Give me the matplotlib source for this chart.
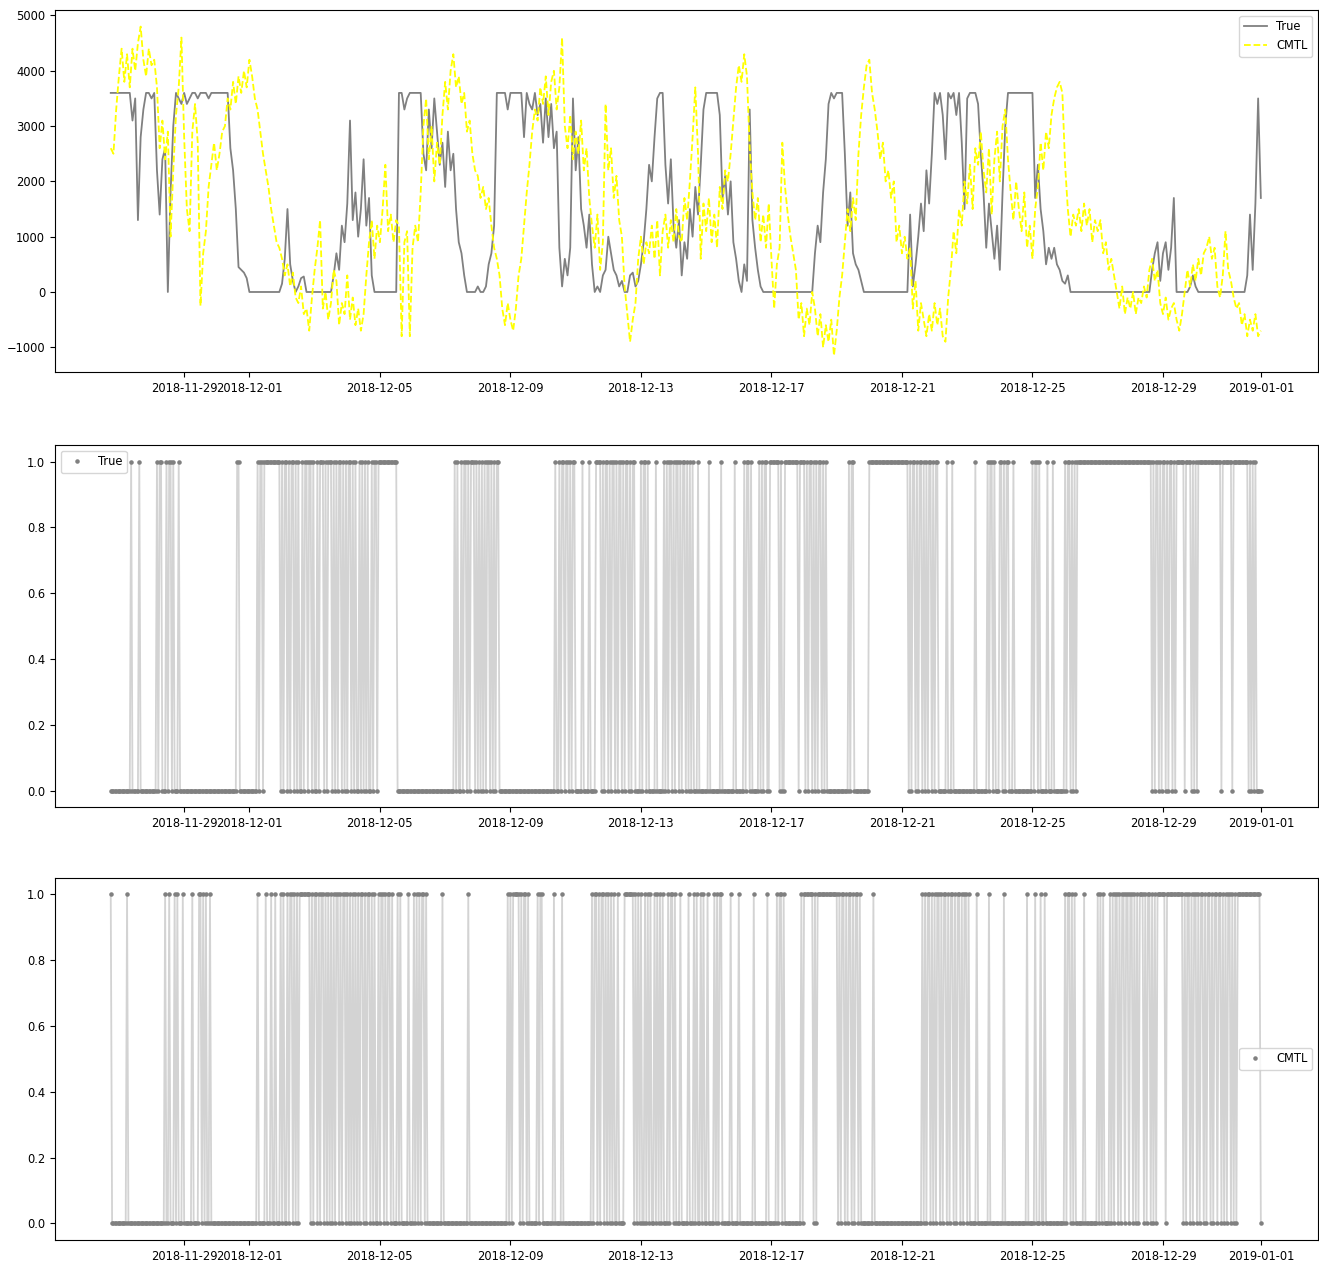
import numpy as np
import pandas as pd
import matplotlib
matplotlib.use("Agg")
import matplotlib.pyplot as plt

plt.rcParams['font.size'] = 8.3

# values every 2 hours, one row per day
# (first row starts 2018-11-26 18:00, last row is 2019-01-01 00:00)
true_rows = [
    [3600, 3600, 3600],
    [3600, 3600, 3600, 3600, 3600, 3100, 3500, 1300, 2800, 3300, 3600, 3600],
    [3500, 3600, 2200, 1400, 2400, 2600, 0, 1800, 3000, 3600, 3500, 3400],
    [3600, 3400, 3500, 3600, 3600, 3500, 3600, 3600, 3600, 3500, 3600, 3600],
    [3600, 3600, 3600, 3600, 3600, 2600, 2200, 1500, 450, 400, 350, 250],
    [0, 0, 0, 0, 0, 0, 0, 0, 0, 0, 0, 0],
    [150, 600, 1500, 500, 200, 0, 100, 250, 280, 0, 0, 0],
    [0, 0, 0, 0, 0, 0, 0, 300, 700, 400, 1200, 900],
    [1600, 3100, 1300, 1800, 1000, 1500, 2400, 1200, 1700, 300, 0, 0],
    [0, 0, 0, 0, 0, 0, 0, 3600, 3600, 3300, 3500, 3600],
    [3600, 3600, 3600, 3600, 2500, 2200, 3300, 2600, 3500, 2900, 2300, 2700],
    [1900, 2900, 2200, 2500, 1500, 900, 700, 300, 0, 0, 0, 0],
    [100, 0, 0, 100, 500, 700, 1200, 3600, 3600, 3600, 3600, 3300],
    [3600, 3600, 3600, 3600, 3600, 2800, 3600, 3400, 3300, 3600, 3200, 3400],
    [2700, 3500, 2800, 3400, 2600, 2900, 800, 100, 600, 300, 800, 3500],
    [2200, 2800, 1500, 1200, 800, 1400, 500, 0, 100, 0, 300, 400],
    [1000, 700, 400, 300, 100, 200, 0, 0, 300, 350, 100, 200],
    [500, 900, 1500, 2300, 2000, 2800, 3500, 3600, 3600, 2300, 1600, 2400],
    [1200, 800, 1300, 300, 900, 600, 1500, 1000, 1900, 1400, 2300, 3300],
    [3600, 3600, 3600, 3600, 3600, 3200, 1700, 2100, 1400, 2000, 900, 600],
    [200, 0, 500, 200, 3300, 1300, 800, 400, 100, 0, 0, 0],
    [0, 0, 0, 0, 0, 0, 0, 0, 0, 0, 0, 0],
    [0, 0, 0, 0, 700, 1200, 900, 1800, 2400, 3400, 3600, 3500],
    [3600, 3600, 3600, 2500, 1200, 1800, 700, 500, 400, 200, 0, 0],
    [0, 0, 0, 0, 0, 0, 0, 0, 0, 0, 0, 0],
    [0, 0, 0, 1400, 100, 500, 1000, 1600, 1100, 2200, 1600, 2500],
    [3600, 3400, 3600, 3200, 2400, 3600, 3500, 3600, 3200, 3600, 2700, 1500],
    [3500, 3600, 3600, 3600, 3400, 2500, 1800, 800, 1600, 1100, 600, 1200],
    [400, 1800, 3000, 3600, 3600, 3600, 3600, 3600, 3600, 3600, 3600, 3600],
    [3600, 1700, 2300, 1500, 1100, 500, 800, 600, 800, 500, 400, 200],
    [150, 300, 0, 0, 0, 0, 0, 0, 0, 0, 0, 0],
    [0, 0, 0, 0, 0, 0, 0, 0, 0, 0, 0, 0],
    [0, 0, 0, 0, 0, 0, 0, 0, 400, 700, 900, 200],
    [700, 900, 400, 800, 1700, 0, 0, 0, 0, 0, 100, 300],
    [100, 0, 0, 0, 0, 0, 0, 0, 0, 0, 0, 0],
    [0, 0, 0, 0, 0, 0, 0, 300, 1400, 400, 1600, 3500],
    [1700],
]

cmtl_rows = [
    [2600, 2500, 3300],
    [3900, 4400, 3800, 4300, 3700, 4400, 4000, 4500, 4800, 4200, 3900, 4400],
    [4100, 4200, 3700, 2600, 3100, 2400, 2900, 1000, 2200, 3200, 3700, 4600],
    [2800, 1500, 1100, 2900, 3400, 2700, -250, 700, 1100, 1900, 2300, 2700],
    [2200, 2500, 2900, 3000, 3500, 3300, 3800, 3400, 3900, 3600, 4000, 3700],
    [4200, 3900, 3500, 3300, 2900, 2500, 2200, 1900, 1500, 1200, 900, 800],
    [600, 300, 500, 100, 350, -100, -200, 100, -400, -300, -700, -100],
    [400, 800, 1300, -300, 0, -500, -200, 400, 200, -600, -200, -400],
    [300, -500, -100, -600, -300, -700, -400, 300, 900, 1300, 600, 1200],
    [900, 1500, 2300, 1100, 1400, 900, 1300, 1200, -800, 900, 1100, -800],
    [800, 1200, 900, 1800, 3000, 3500, 2400, 3000, 2000, 2700, 2300, 3200],
    [3800, 3300, 4000, 4300, 3700, 3900, 3400, 3600, 2900, 3100, 2500, 2200],
    [2100, 1700, 1900, 1500, 1700, 1200, 800, 600, 300, -300, -600, -200],
    [-500, -700, -300, 300, 600, 1200, 1800, 2300, 2900, 3300, 3100, 3700],
    [3400, 3900, 3200, 3800, 4000, 3300, 3700, 4600, 3000, 2600, 3200, 2400],
    [2900, 2500, 3100, 2200, 2600, 1700, 1200, 800, 1400, 400, 900, 3400],
    [2200, 2600, 1700, 2100, 1300, 1000, 100, -400, -900, -500, -200, 600],
    [1000, 500, 900, 700, 1200, 600, 1300, 300, 1100, 1400, 800, 1300],
    [900, 1500, 1000, 900, 1700, 1300, 2000, 2800, 3700, 2500, 600, 1600],
    [1100, 1700, 900, 1400, 800, 1900, 1500, 2200, 2000, 2500, 3100, 3700],
    [4100, 3800, 4300, 3900, 2600, 1800, 1300, 1700, 900, 1400, 800, 1600],
    [600, -300, 500, 800, 2700, 1900, 1400, 1000, 700, 400, -500, -200],
    [-800, -300, -600, 0, -300, -800, -400, -1000, -600, -900, -500, -1150],
    [-700, -100, 300, 900, 1500, 1100, 1700, 1300, 2500, 3200, 3700, 4100],
    [4200, 3600, 3300, 2900, 2400, 2700, 2000, 2200, 1700, 2000, 900, 1200],
    [700, 1000, 600, 800, -300, 200, -700, -200, -500, -800, -400, -700],
    [-200, -600, -300, -800, -900, -100, 400, 1100, 700, 1500, 1200, 2000],
    [1600, 2300, 1500, 2600, 2300, 2900, 2200, 1800, 2600, 1400, 2400, 2900],
    [2000, 3000, 3300, 2400, 1800, 1300, 2000, 1500, 1100, 1800, 800, 1200],
    [600, 1500, 1900, 2700, 2200, 2900, 2600, 3200, 3500, 3700, 3800, 3600],
    [2300, 1500, 1000, 1400, 1200, 1500, 1100, 1600, 1200, 1500, 900, 1300],
    [1100, 1300, 700, 900, 400, 600, 300, 0, -300, 100, -400, -100],
    [-300, 0, -400, -100, -200, 100, -100, 400, 600, 200, 400, -200],
    [-400, -100, -500, -300, -200, -500, -700, -400, 0, 400, 100, 500],
    [200, 600, 300, 700, 800, 1000, 600, 800, 100, -100, 300, 1100],
    [400, 200, -100, -300, -200, -600, -400, -800, -500, -700, -400, -800],
    [-700],
]

# hourly on/off states, one string per day (first one starts 2018-11-26 18:00)
true_state = [
    "000000",
    "000000000100000100000000",  # 11-27
    "000010110001011010001000",
    "000000000000000000000000",
    "000000000000000110000000",
    "000000101101111111111110",  # 12-01
    "101101011010100101101101",
    "001011101011101010110101",
    "011010100101010100101101",
    "111111111111100000000000",  # 12-05
    "000000000000000000000000",
    "000000010100101101011101",
    "010101011010101100000000",
    "000000000000000000000000",  # 12-09
    "000000000100101101101011",
    "000001000010000111101011",
    "010110101101011010110000",
    "101101000001000001010110",  # 12-13
    "101101011010101000100000",
    "001000000001000000000100",
    "000010110100000101011001",
    "111111010011111111110111",  # 12-17
    "101011010101101010000000",
    "000000000101100000000000",
    "111111111111111111111111",
    "111110101101011010101101",  # 12-21
    "011000000100010000000000",
    "000000100000000101101000",
    "110101100010000000000000",
    "101101000001000100000000",  # 12-25
    "101101010111111111111111",
    "111111111111111111111111",
    "111111111111111101011010",
    "110101101011111101111010",  # 12-29
    "101111111111111111101111",
    "111011111111111010101000",
    "0",
]

cmtl_state = [
    "100000",
    "000000100000000000000000",  # 11-27
    "000000000010010001010001",
    "000000100001101010010000",
    "000000000000000000000000",
    "000000100000100010010001",  # 12-01
    "010010110101011111111010",
    "110101101010101011010110",
    "101010101011010110101001",
    "011010110100010100000100",  # 12-05
    "010101011010000000000010",
    "000000000000000001000000",
    "000000000000000000000010",
    "101111101011010000001011",  # 12-09
    "000000001000001000000000",
    "000000000000101101011010",
    "101010010000111111101010",
    "100101010010101010001011",  # 12-13
    "010001000001000101001010",
    "010000101011000000100000",
    "100000000001000000000100",
    "000010110100000000000010",  # 12-17
    "111111101011111111111111",
    "101011010110101101000000",
    "000100000000000000000000",
    "000000000000000101011010",  # 12-21
    "101101011010110101101011",
    "010000010000000010000000",
    "000100000000000000001000",
    "001000100100000000000000",  # 12-25
    "101101010000001000000000",
    "101010000101011010110110",
    "110101011101011010101111",
    "110111111111111010110101",  # 12-29
    "101011010110101101101010",
    "110101011111111111111111",
    "0",
]

true_vals = [v for row in true_rows for v in row]
cmtl_vals = [v for row in cmtl_rows for v in row]
t_top = pd.date_range("2018-11-26 18:00", periods=len(true_vals), freq="2h")
t_top2 = pd.date_range("2018-11-26 18:00", periods=len(cmtl_vals), freq="2h")

s_true = [int(c) for c in "".join(true_state)]
s_cmtl = [int(c) for c in "".join(cmtl_state)]
t_true = pd.date_range("2018-11-26 18:00", periods=len(s_true), freq="h")
t_cmtl = pd.date_range("2018-11-26 18:00", periods=len(s_cmtl), freq="h")

fig = plt.figure(figsize=(13.19, 12.62), dpi=100)
ax1 = fig.add_axes([0.0417, 0.7052, 0.9575, 0.2868])
ax2 = fig.add_axes([0.0417, 0.3605, 0.9575, 0.2868])
ax3 = fig.add_axes([0.0417, 0.0175, 0.9575, 0.2868])

# top: the raw series
ax1.plot(t_top, true_vals, color='gray', lw=1.3, label='True')
ax1.plot(t_top2, cmtl_vals, color='yellow', ls='--', lw=1.3, label='CMTL')
ax1.legend(loc='upper right')

# middle / bottom: on-off states
ax2.plot(t_true, s_true, color='lightgray', lw=1.3)
ax2.plot(t_true, s_true, '.', color='gray', ms=4.5, label='True')
ax2.legend(loc='upper left')

ax3.plot(t_cmtl, s_cmtl, color='lightgray', lw=1.3)
ax3.plot(t_cmtl, s_cmtl, '.', color='gray', ms=4.5, label='CMTL')
ax3.legend(loc='center right')

for ax in (ax1, ax2, ax3):
    ax.set_xlim(pd.Timestamp('2018-11-25 01:00'), pd.Timestamp('2019-01-02 18:00'))

fig.savefig('out.png', dpi=100)
